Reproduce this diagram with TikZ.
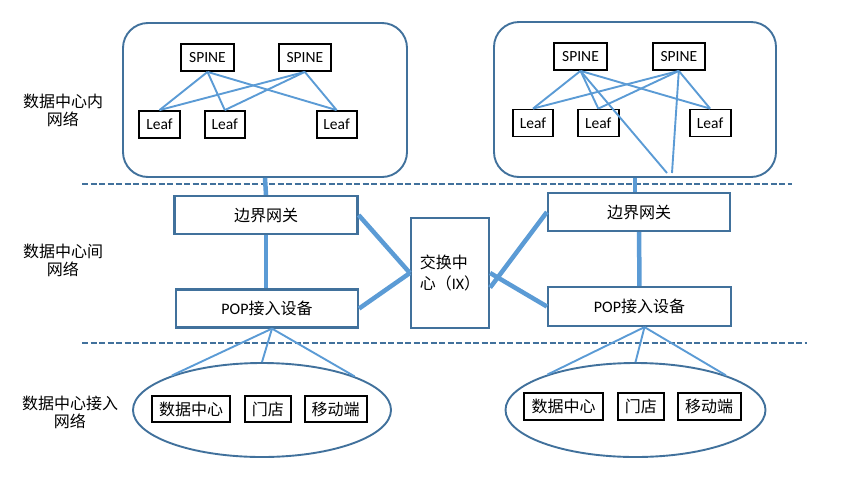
\documentclass[tikz,border=0pt]{standalone}
\usepackage{fontspec}
\setmainfont{Noto Sans CJK SC}
\newfontfamily\lat{Carlito}
\usepackage{tikz}
\usetikzlibrary{positioning}
\usetikzlibrary{shapes.geometric}
\definecolor{frame}{RGB}{65,113,156}
\definecolor{link}{RGB}{91,155,213}

\begin{document}
\begin{tikzpicture}[
            x = 1pt, y = -1pt, % pixel grid, y down
            font = \fontsize{16pt}{18pt}\selectfont,
            thin link/.style = {draw = link, line width = 1.9pt},
            thick link/.style = {draw = link, line width = 4.5pt}
        ]

        \tikzstyle{sw}=[
            draw = black,
            line width = 1.8pt,
            inner sep = 0pt,
            minimum height = 27pt,
            font = \lat\fontsize{15.5pt}{17pt}\selectfont
        ]
        \tikzstyle{dev}=[draw = frame, line width = 2.2pt, inner sep = 0pt, minimum height = 38pt]
        \tikzstyle{dcbox}=[draw = frame, line width = 1.9pt, rounded corners = 25pt, minimum width = 284pt, minimum height = 154pt]
        \tikzstyle{site}=[draw = frame, ellipse, line width = 1.9pt, inner sep = 0pt, minimum width = 258pt, minimum height = 94pt]
        \tikzstyle{enduser}=[draw = black, line width = 1.8pt, inner sep = 0pt, minimum height = 26pt]
        \tikzstyle{divider}=[draw = frame, line width = 2pt, dash pattern = on 6pt off 2.5pt]

        \useasboundingbox (0,0) rectangle (845,477);

	% level names
        \node[align = center] (lvlIn) at (63,110) {数据中心内\\网络};
        \node[align = center] (lvlBetween) at (63,260) {数据中心间\\网络};
        \node[align = center] (lvlAccess) at (70,412) {数据中心接入\\网络};

        \draw[divider] (82,184) -- (792,184);
        \draw[divider] (82,343) -- (807,343);

	% data center inside
        \node[dcbox] (dcL) at (265,100) {};
        \node[dcbox, minimum width = 282pt, minimum height = 155pt] (dcR) at (635,99.5) {};

        \node[sw, minimum width = 53pt] (spL1) at (207.5,57.5) {SPINE};
        \node[sw, minimum width = 52pt, right = 43pt of spL1] (spL2) {SPINE};
        \node[sw, minimum width = 41pt] (lfL1) at (159.5,124.5) {Leaf};
        \node[sw, minimum width = 40pt, right = 23pt of lfL1] (lfL2) {Leaf};
        \node[sw, minimum width = 40pt, right = 70pt of lfL2] (lfL3) {Leaf};

        \path[thin link] (spL1.south) edge (lfL1.north) edge (lfL2.north) edge (lfL3.north);
        \path[thin link] (spL2.south) edge (lfL1.north) edge (lfL2.north) edge (lfL3.north);

        \node[sw, minimum width = 53pt] (spR1) at (580.5,56.5) {SPINE};
        \node[sw, minimum width = 52pt, right = 44pt of spR1] (spR2) {SPINE};
        \node[sw, minimum width = 40pt] (lfR1) at (533,123) {Leaf};
        \node[sw, minimum width = 41pt, right = 23pt of lfR1] (lfR2) {Leaf};
        \node[sw, minimum width = 41pt, right = 69pt of lfR2] (lfR3) {Leaf};
        \coordinate (tapA) at (667,173);
        \coordinate (tapB) at (672,173);

        \path[thin link] (spR1.south) edge (lfR1.north) edge (lfR2.north) edge (lfR3.north) edge (tapA);
        \path[thin link] (spR2.south) edge (lfR1.north) edge (lfR2.north) edge (lfR3.north) edge (tapB);

	% between data centers
        \node[dev, minimum width = 183pt] (gwL) at (266,215) {边界网关};
        \node[dev, minimum width = 182pt] (popL) at (267,308.5) {{\lat POP}接入设备};
        \node[dev, minimum width = 78pt, minimum height = 110pt, align = left,
              font = \fontsize{16pt}{21pt}\selectfont] (ix) at (450,273) {交换中\\心（{\lat IX}）};
        \node[dev, minimum width = 182pt] (gwR) at (639,212) {边界网关};
        \node[dev, minimum width = 183pt, minimum height = 39pt] (popR) at (639.5,306.5) {{\lat POP}接入设备};

        \path[thick link] (dcL.south) edge (gwL.north) (gwL.south) edge (gwL.south |- popL.north);
        \path[thick link] (dcR.south) edge (dcR.south |- gwR.north) (gwR) edge (popR);
        \path[thick link] (gwL.east) edge (ix.west) (popL.east) edge (ix.west);
        \path[thick link] (ix.-20) edge (gwR.west) (ix.east) edge (popR.west);

	% access level
        \node[site] (siteL) at (262,410) {};
        \node[enduser, minimum width = 78pt] (dcenL) at (191,409) {数据中心};
        \node[enduser, minimum width = 46pt, right = 13pt of dcenL] (shopL) {门店};
        \node[enduser, minimum width = 62pt, right = 12pt of shopL] (mobL) {移动端};

        \node[site, minimum width = 260pt] (siteR) at (635.5,410) {};
        \node[enduser, minimum width = 79pt, minimum height = 27pt] (dcenR) at (563.5,406.5) {数据中心};
        \node[enduser, minimum width = 46pt, minimum height = 27pt, right = 13pt of dcenR] (shopR) {门店};
        \node[enduser, minimum width = 63pt, minimum height = 27pt, right = 12pt of shopR] (mobR) {移动端};

        \path[thin link] ([xshift = 5pt]popL.south) edge (siteL.159) edge (siteL.north) edge (siteL.20);
        \path[thin link] ([xshift = 5pt]popR.south) edge (siteR.158) edge (siteR.north) edge (siteR.21);

\end{tikzpicture}
\end{document}
